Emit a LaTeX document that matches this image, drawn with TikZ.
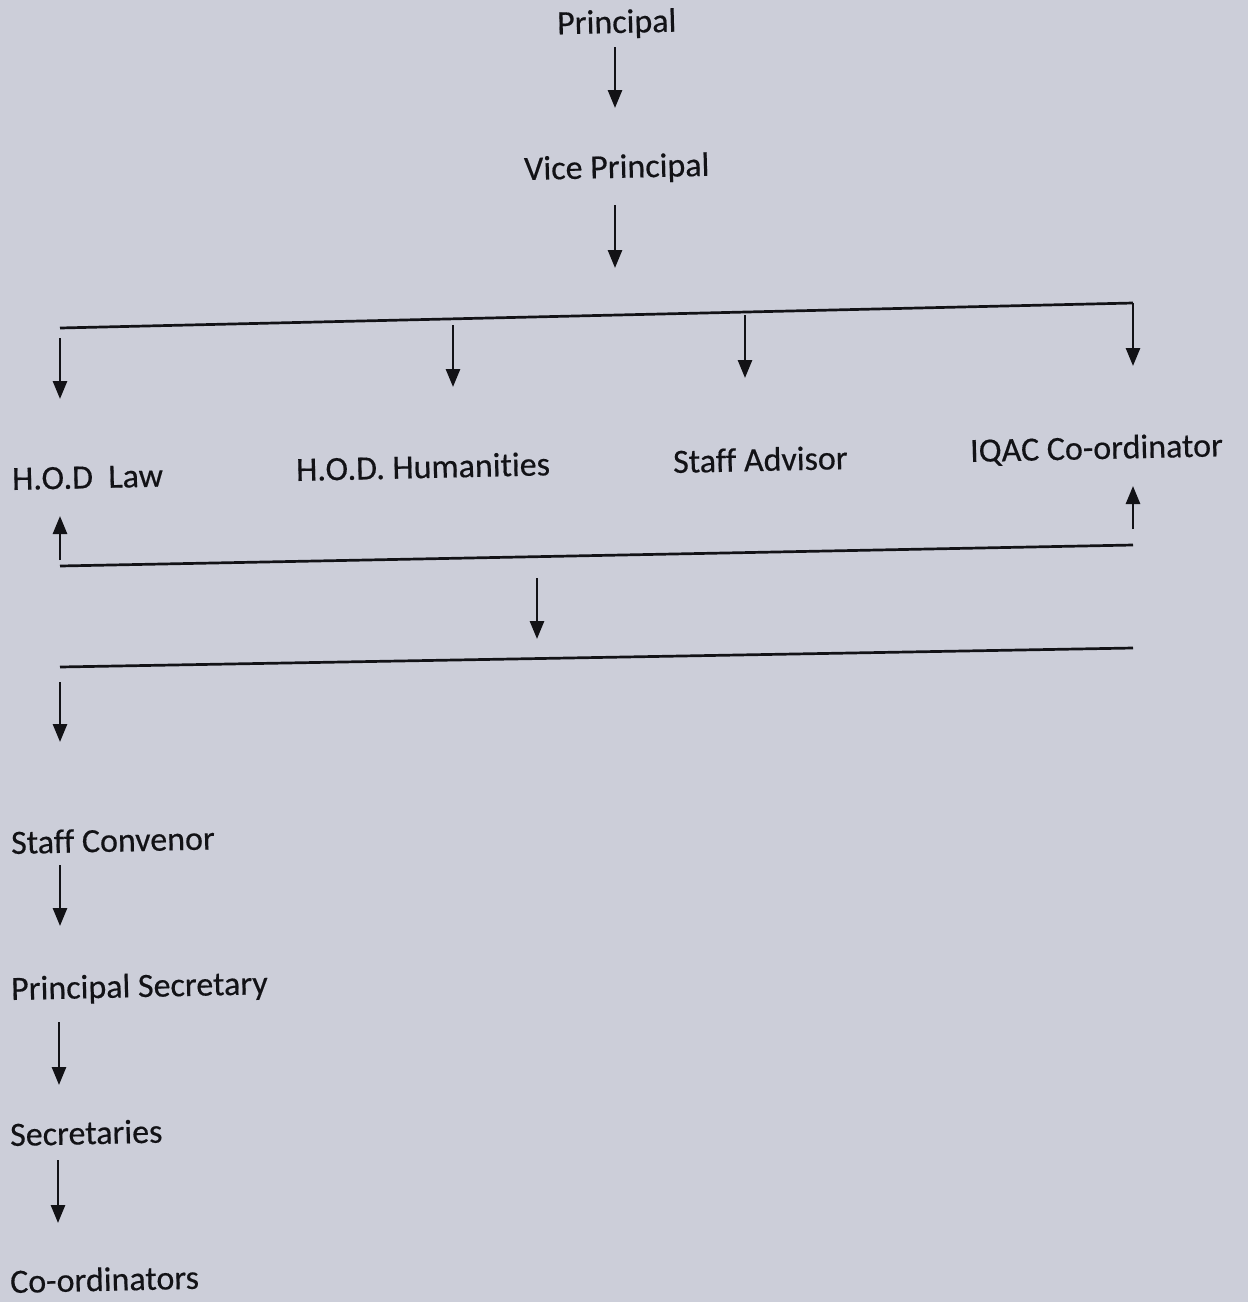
\documentclass[tikz,border=0pt]{standalone}
\usepackage{fontspec}
\setmainfont[Ligatures={NoCommon}, FakeBold=0.4]{Carlito}
\usetikzlibrary{arrows.meta}
\definecolor{paper}{RGB}{204,206,217}
\definecolor{ink}{RGB}{18,18,22}
\tikzset{
  lbl/.style={inner sep=0pt, font=\fontsize{17}{19}\selectfont, text=ink, rotate=1.3},
  arr/.style={draw=ink, line width=1.35pt, -{Triangle[width=7pt,length=9pt]}},
  barline/.style={draw=ink, line width=1.35pt}
}
\begin{document}
\begin{tikzpicture}[x=0.5pt,y=-0.5pt]
\fill[paper] (0,0) rectangle (1248,1302);
\useasboundingbox (0,0) rectangle (1248,1302);

% labels
\node[lbl, anchor=base] (pr) at (617,33) {Principal};
\node[lbl, anchor=base west] (vp) at (524,180) {Vice Principal};
\node[lbl, anchor=base west] (law) at (12,490) {H.O.D\ \ Law};
\node[lbl, anchor=base west] (hum) at (296,481) {H.O.D. Humanities};
\node[lbl, anchor=base west] (sa) at (673,473) {Staff Advisor};
\node[lbl, anchor=base west] (iqac) at (970,462) {IQAC Co-ordinator};
\node[lbl, anchor=base west] (sc) at (11,854) {Staff Convenor};
\node[lbl, anchor=base west] (ps) at (11,1000) {Principal Secretary};
\node[lbl, anchor=base west] (sec) at (10,1146) {Secretaries};
\node[lbl, anchor=base west] (co) at (10,1293) {Co-ordinators};

% coordinates
\coordinate (a1s) at (615,47);  \coordinate (a1e) at (615,108);
\coordinate (a2s) at (615,205); \coordinate (a2e) at (615,268);
\coordinate (b1l) at (60,328);  \coordinate (b1r) at (1133,303);
\coordinate (d1s) at (60,338);  \coordinate (d1e) at (60,399);
\coordinate (d2s) at (453,325); \coordinate (d2e) at (453,387);
\coordinate (d3s) at (745,315); \coordinate (d3e) at (745,378);
\coordinate (d4e) at (1133,366);
\coordinate (u1s) at (60,560);  \coordinate (u1e) at (60,516);
\coordinate (u2s) at (1133,529);\coordinate (u2e) at (1133,486);
\coordinate (b2l) at (60,566);  \coordinate (b2r) at (1133,545);
\coordinate (m1s) at (537,578); \coordinate (m1e) at (537,639);
\coordinate (b3l) at (60,667);  \coordinate (b3r) at (1133,648);
\coordinate (e1s) at (60,682);  \coordinate (e1e) at (60,742);
\coordinate (e2s) at (60,865);  \coordinate (e2e) at (60,926);
\coordinate (e3s) at (59,1022); \coordinate (e3e) at (59,1085);
\coordinate (e4s) at (58,1160); \coordinate (e4e) at (58,1223);

% connectors
\draw[arr] (a1s) -- (a1e);
\draw[arr] (a2s) -- (a2e);
\draw[barline] (b1l) -- (b1r);
\draw[arr] (b1r) -- (d4e);
\draw[arr] (d1s) -- (d1e);
\draw[arr] (d2s) -- (d2e);
\draw[arr] (d3s) -- (d3e);
\draw[arr] (u1s) -- (u1e);
\draw[arr] (u2s) -- (u2e);
\draw[barline] (b2l) -- (b2r);
\draw[arr] (m1s) -- (m1e);
\draw[barline] (b3l) -- (b3r);
\draw[arr] (e1s) -- (e1e);
\draw[arr] (e2s) -- (e2e);
\draw[arr] (e3s) -- (e3e);
\draw[arr] (e4s) -- (e4e);
\end{tikzpicture}
\end{document}
